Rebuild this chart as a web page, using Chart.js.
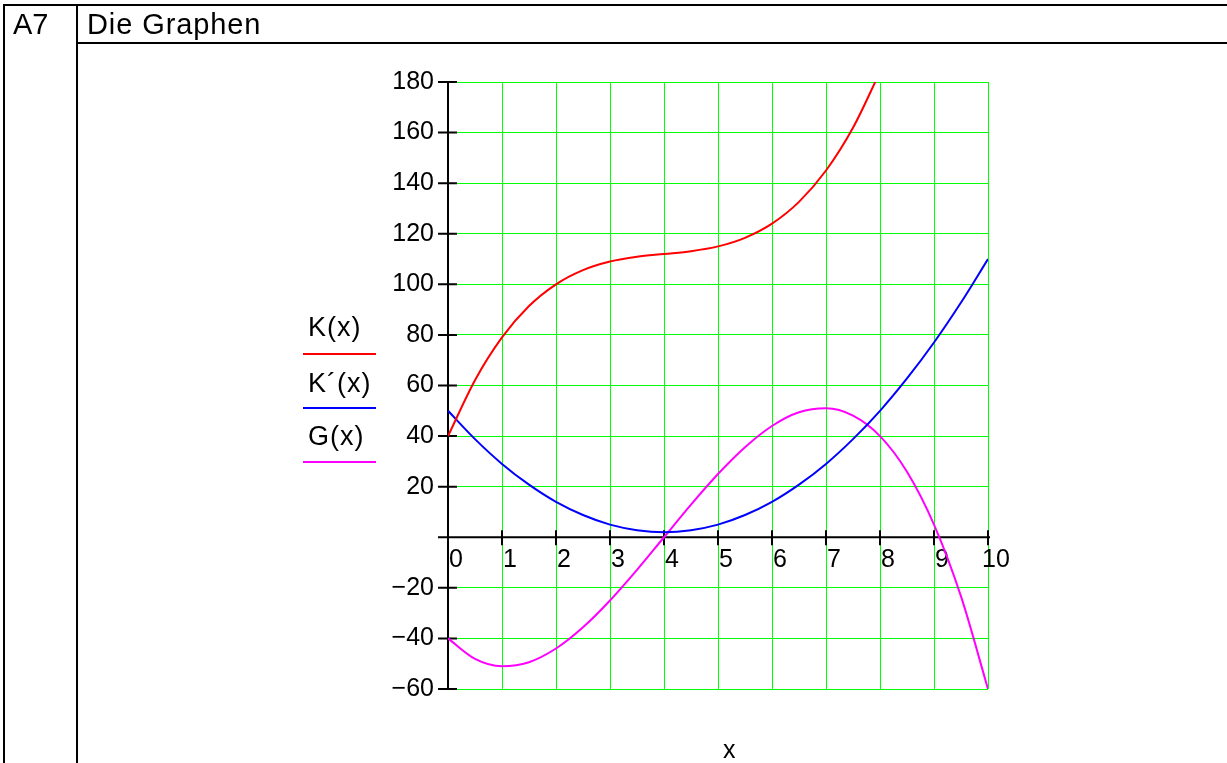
<!DOCTYPE html>
<html>
<head>
<meta charset="utf-8">
<title>Die Graphen</title>
<script src="https://cdn.jsdelivr.net/npm/chart.js@4.4.0/dist/chart.umd.min.js"></script>
<style>
    html, body { margin: 0; padding: 0; background: #fff; overflow: hidden; }
    body { width: 1227px; height: 763px; position: relative; font-family: "Liberation Sans", Arial, sans-serif; color: #000; }
    #chartBox { position: absolute; left: 0; top: 0; width: 1227px; height: 763px; }
    .rule { position: absolute; background: #000; }
    .txt { position: absolute; white-space: nowrap; line-height: 1; }
    .key { position: absolute; left: 303px; width: 73px; height: 2px; }
</style>
</head>
<body>
<div id="chartBox"><canvas id="graphChart"></canvas></div>

<!-- table frame -->
<div class="rule" style="left:3px; top:4px; width:1224px; height:2px"></div>
<div class="rule" style="left:3px; top:4px; width:2px; height:759px"></div>
<div class="rule" style="left:76px; top:4px; width:2px; height:759px"></div>
<div class="rule" style="left:76px; top:42px; width:1151px; height:2px"></div>
<div class="txt" style="left:13px; top:10px; font-size:29px">A7</div>
<div class="txt" style="left:87px; top:10px; font-size:29px; letter-spacing:0.9px">Die Graphen</div>

<!-- series labels -->
<div class="txt" style="left:308px; top:314px; font-size:27px; letter-spacing:1px">K(x)</div>
<div class="key" style="top:353px; background:#ff0000"></div>
<div class="txt" style="left:308px; top:370px; font-size:27px; letter-spacing:1px">K´(x)</div>
<div class="key" style="top:407px; background:#0000ff"></div>
<div class="txt" style="left:308px; top:423px; font-size:27px; letter-spacing:1px">G(x)</div>
<div class="key" style="top:461px; background:#ff00ff"></div>

<!-- axis title -->
<div class="txt" style="left:723px; top:737px; font-size:25px">x</div>

<script>
// Values
const xValues = [0, 0.5, 1, 1.5, 2, 2.5, 3, 3.5, 4, 4.5, 5, 5.5, 6, 6.5, 7, 7.5, 8, 8.5, 9, 9.5, 10];
const kValues = [40, 62.1, 79, 91.4, 100, 105.6, 109, 110.9, 112, 113.1, 115, 118.4, 124, 132.6, 145, 161.9, 184];
const kPrimeValues = [50, 38.8, 29, 20.8, 14, 8.8, 5, 2.8, 2, 2.8, 5, 8.8, 14, 20.8, 29, 38.8, 50, 62.8, 77, 92.8, 110];
const gValues = [-40, -48.1, -51, -49.4, -44, -35.6, -25, -12.9, 0, 12.9, 25, 35.6, 44, 49.4, 51, 48.1, 40, 25.9, 5, -23.4, -60];

const xTicks = [0, 1, 2, 3, 4, 5, 6, 7, 8, 9, 10];
const yTicks = [-60, -40, -20, 0, 20, 40, 60, 80, 100, 120, 140, 160, 180];

const tickFont = { family: 'Liberation Sans, Arial, sans-serif', size: 25 };

function toPoints(values) {
    return values.map((y, i) => ({ x: xValues[i], y: y }));
}

// Mathcad style axes: black lines through the origin with ticks crossing them
const crossAxes = {
    id: 'crossAxes',
    beforeDatasetsDraw(chart) {
        const ctx = chart.ctx;
        const xs = chart.scales.x;
        const ys = chart.scales.y;
        const x0 = xs.getPixelForValue(0);
        const y0 = ys.getPixelForValue(0);

        ctx.save();
        ctx.strokeStyle = '#000';
        ctx.lineWidth = 2;
        ctx.beginPath();
        ctx.moveTo(x0, ys.getPixelForValue(yTicks[yTicks.length - 1]));
        ctx.lineTo(x0, ys.getPixelForValue(yTicks[0]));
        ctx.moveTo(x0 - 9, y0);
        ctx.lineTo(xs.getPixelForValue(xTicks[xTicks.length - 1]) + 2, y0);
        yTicks.forEach(v => {
            const p = ys.getPixelForValue(v);
            ctx.moveTo(x0 - 10, p);
            ctx.lineTo(x0 + 9, p);
        });
        xTicks.forEach(v => {
            const p = xs.getPixelForValue(v);
            ctx.moveTo(p, y0 - 7);
            ctx.lineTo(p, y0 + 8);
        });
        ctx.stroke();
        ctx.restore();
    }
};

function lineSet(label, values, color) {
    return {
        label: label,
        data: toPoints(values),
        borderColor: color,
        backgroundColor: color,
        borderWidth: 2,
        pointRadius: 0,
        showLine: true,
        fill: false,
        cubicInterpolationMode: 'monotone'
    };
}

const ctx = document.getElementById('graphChart').getContext('2d');
const graphChart = new Chart(ctx, {
    type: 'scatter',
    data: {
        datasets: [
            lineSet('K(x)', kValues, '#ff0000'),
            lineSet('K´(x)', kPrimeValues, '#0000ff'),
            lineSet('G(x)', gValues, '#ff00ff')
        ]
    },
    options: {
        responsive: true,
        maintainAspectRatio: false,
        animation: false,
        layout: {
            padding: { left: 388, top: 82, right: 239, bottom: 74 }
        },
        plugins: {
            legend: { display: false },
            tooltip: { enabled: false }
        },
        scales: {
            x: {
                type: 'linear',
                position: { y: 0 },
                min: 0,
                max: 10,
                afterFit: function(scale) { scale.height = 0; },
                afterBuildTicks: function(scale) {
                    scale.ticks = xTicks.map(v => ({ value: v }));
                },
                border: { display: false },
                grid: { color: '#00ff00', lineWidth: 1, drawTicks: false },
                ticks: {
                    color: '#000',
                    font: tickFont,
                    padding: 8,
                    labelOffset: 8,
                    maxRotation: 0,
                    autoSkip: false,
                    callback: function(value) { return String(value); }
                }
            },
            y: {
                type: 'linear',
                position: 'left',
                min: -60,
                max: 180,
                afterFit: function(scale) { scale.width = 60; },
                afterBuildTicks: function(scale) {
                    scale.ticks = yTicks.map(v => ({ value: v }));
                },
                border: { display: false },
                grid: { color: '#00ff00', lineWidth: 1, drawTicks: false },
                ticks: {
                    color: '#000',
                    font: tickFont,
                    padding: 14,
                    autoSkip: false,
                    callback: function(value) {
                        if (value === 0) return '';
                        return value < 0 ? '\u2212' + Math.abs(value) : String(value);
                    }
                }
            }
        }
    },
    plugins: [crossAxes]
});
</script>
</body>
</html>
